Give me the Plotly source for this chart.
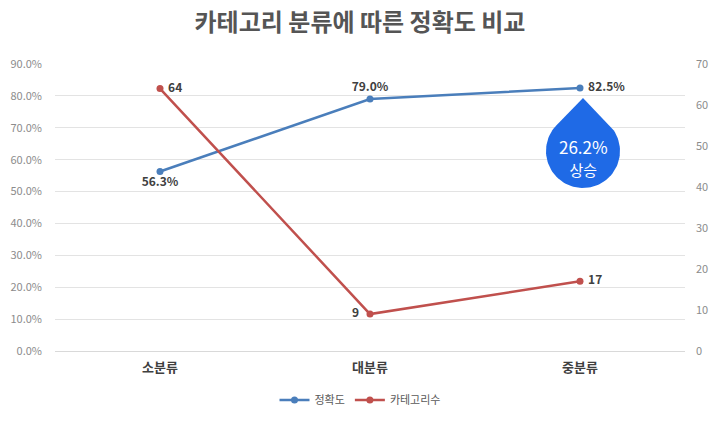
import numpy as np
import plotly.graph_objects as go

categories = ["소분류", "대분류", "중분류"]
accuracy = [0.563, 0.790, 0.825]
cat_counts = [64, 9, 17]
acc_labels = ["56.3%", "79.0%", "\u00a082.5%"]
cnt_labels = ["\u00a064", "9\u00a0\u00a0", "\u00a017"]
acc_pos = ["bottom center", "top center", "middle right"]
cnt_pos = ["middle right", "middle left", "middle right"]
left_ticks = [i / 10 for i in range(10)]
right_ticks = list(range(0, 80, 10))

FONT = "Noto Sans CJK KR"
BLUE = "#4A7EBB"
RED = "#C0504D"
W, H = 720, 421
L, R, T, B = 55, 35, 64, 70

fig = go.Figure()
fig.add_trace(go.Scatter(
    x=categories, y=accuracy, name="정확도", mode="lines+markers+text",
    line=dict(color=BLUE, width=2.5), marker=dict(size=7, color=BLUE),
    text=acc_labels, textposition=acc_pos,
    textfont=dict(family=FONT, size=12, color="#404040", weight="bold"),
    yaxis="y", cliponaxis=False))
fig.add_trace(go.Scatter(
    x=categories, y=cat_counts, name="카테고리수", mode="lines+markers+text",
    line=dict(color=RED, width=2.5), marker=dict(size=7, color=RED),
    text=cnt_labels, textposition=cnt_pos,
    textfont=dict(family=FONT, size=12, color="#404040", weight="bold"),
    yaxis="y2", cliponaxis=False))

# teardrop callout drawn on a hidden pixel-coordinate overlay axis
tipx, tipy = 583, 98
cx, cy, r = 583, 151, 37
d = cy - tipy
th = np.arccos(r / d)
angs = np.linspace(-np.pi / 2 + th, 3 * np.pi / 2 - th, 80)
dx = [tipx] + list(cx + r * np.cos(angs)) + [tipx]
dy = [tipy] + list(cy + r * np.sin(angs)) + [tipy]
fig.add_trace(go.Scatter(x=dx, y=dy, xaxis="x3", yaxis="y3", mode="lines",
                         fill="toself", fillcolor="#1F6AE6",
                         line=dict(width=0, color="#1F6AE6"),
                         showlegend=False, hoverinfo="skip"))
fig.add_annotation(x=cx, y=cy + 6, xref="x3", yref="y3",
                   text="26.2%<br><span style='font-size:15px'>상승</span>",
                   showarrow=False, font=dict(family=FONT, size=17, color="white"),
                   align="center", xanchor="center", yanchor="middle")

fig.update_layout(
    width=W, height=H, margin=dict(l=L, r=R, t=T, b=B, autoexpand=False),
    paper_bgcolor="white", plot_bgcolor="white",
    font=dict(family=FONT, color="#595959"),
    title=dict(text="<b>카테고리 분류에 따른 정확도 비교</b>", x=0.5, xanchor="center",
               y=1 - 23 / H, yanchor="middle",
               font=dict(family=FONT, size=24, color="#555555")),
    xaxis=dict(type="category", range=[-0.5, 2.5], showgrid=False,
               showline=True, linecolor="#d9d9d9", linewidth=1, ticks="",
               tickfont=dict(family=FONT, size=13, color="#404040", weight="bold"),
               ticklabelstandoff=4, automargin=False),
    yaxis=dict(range=[0, 0.9], tickvals=left_ticks, tickformat=".1%",
               showgrid=True, gridcolor="#e3e3e3", gridwidth=1, zeroline=False,
               tickfont=dict(family=FONT, size=11, color="#8c8c8c"),
               ticklabelstandoff=12, automargin=False),
    yaxis2=dict(range=[0, 70], tickvals=right_ticks, overlaying="y", side="right",
                showgrid=False, zeroline=False,
                tickfont=dict(family=FONT, size=11, color="#8c8c8c"),
                ticklabelstandoff=10, automargin=False),
    xaxis3=dict(range=[L, W - R], overlaying="x", visible=False, anchor="y3"),
    yaxis3=dict(range=[H - B, T], overlaying="y", visible=False, anchor="x3"),
    legend=dict(orientation="h", x=0.5, xanchor="center", xref="container",
                y=(H - 400) / H, yref="container", yanchor="middle",
                font=dict(family=FONT, size=11, color="#595959")),
    showlegend=True,
)
fig.write_html("out.html")
